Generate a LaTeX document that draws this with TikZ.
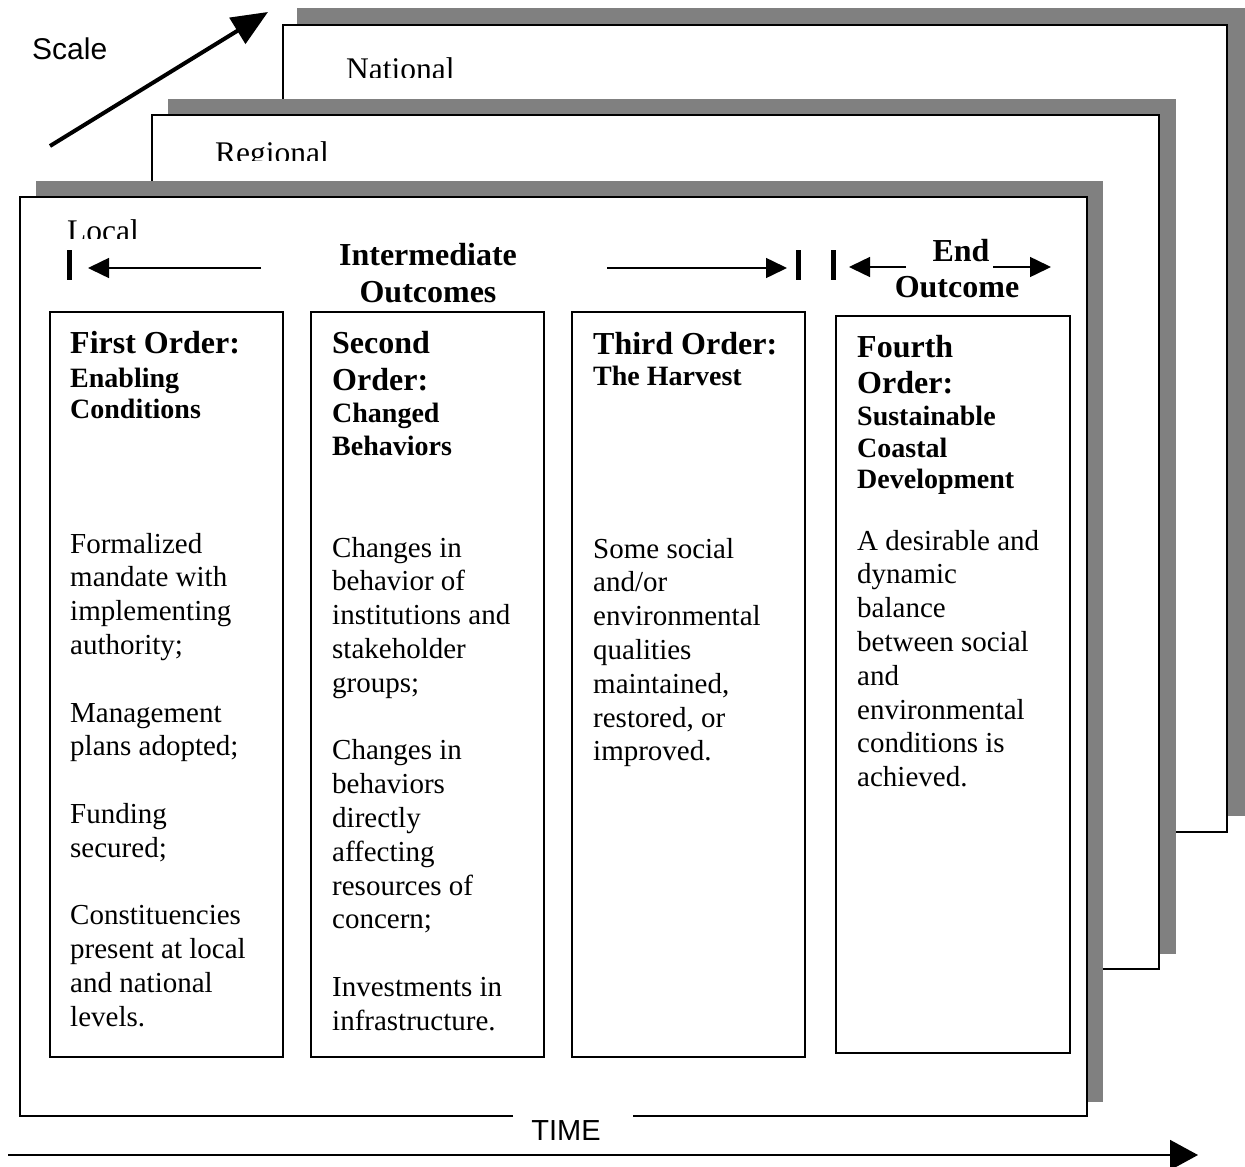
\documentclass[tikz,border=0pt]{standalone}
\usepackage{fontspec}
\setmainfont{Liberation Serif}
\newfontfamily\arialf{Liberation Sans}
\usetikzlibrary{arrows.meta}
\definecolor{shadowgray}{HTML}{808080}
\begin{document}
\begin{tikzpicture}[x=1pt,y=-1pt,
  shadowbox/.style={fill=shadowgray, draw=none},
  layerbox/.style={fill=white, draw=black, line width=2pt},
  orderbox/.style={draw=black, line width=1.6pt},
  txt/.style={inner sep=0pt, anchor=base west},
  body/.style={txt, font=\fontsize{29}{34}\selectfont},
  ttl/.style={txt, font=\bfseries\fontsize{32}{36}\selectfont},
  sub/.style={txt, font=\bfseries\fontsize{28}{32}\selectfont},
  head/.style={inner sep=0pt, anchor=base, font=\bfseries\fontsize{32}{36}\selectfont},
  layerlabel/.style={txt, font=\fontsize{31.5}{36}\selectfont},
  bar/.style={line width=5pt},
  harrow/.style={line width=1.5pt, -{Triangle[length=21pt,width=20pt]}},
]
\useasboundingbox (0,0) rectangle (1245,1167);

% National layer
\fill[shadowbox] (297,8) rectangle (1245,816);
\draw[layerbox] (283,25) rectangle (1227,832);
\begin{scope}
  \clip (300,40) rectangle (600,77);
  \node[layerlabel] (national) at (346,79) {National};
\end{scope}

% Regional layer
\fill[shadowbox] (168,99) rectangle (1176,954);
\draw[layerbox] (152,115) rectangle (1159,969);
\begin{scope}
  \clip (170,125) rectangle (500,160);
  \node[layerlabel] (regional) at (215,163) {Regional};
\end{scope}

% Local layer
\fill[shadowbox] (36,181) rectangle (1103,1102);
\fill[white] (20,197) rectangle (1087,1116);
\draw[line width=2pt] (513,1116) -- (20,1116) -- (20,197) -- (1087,197) -- (1087,1116) -- (633,1116);
\begin{scope}
  \clip (40,205) rectangle (300,238);
  \node[layerlabel] (local) at (67,241) {Local};
\end{scope}

% Header bars and arrows
\draw[bar] (69,250) -- (69,280);
\draw[bar] (798,250) -- (798,280);
\draw[bar] (833,250) -- (833,280);
\coordinate (a1s) at (261,268); \coordinate (a1e) at (88,268);
\coordinate (a2s) at (607,268); \coordinate (a2e) at (787,268);
\coordinate (a3s) at (906,267); \coordinate (a3e) at (849,267);
\coordinate (a4s) at (993,267); \coordinate (a4e) at (1051,267);
\draw[harrow] (a1s) -- (a1e);
\draw[harrow] (a2s) -- (a2e);
\draw[harrow] (a3s) -- (a3e);
\draw[harrow] (a4s) -- (a4e);
\node[head] (inter1) at (428,265) {Intermediate};
\node[head] (inter2) at (428,302) {Outcomes};
\node[head] (end1) at (961,261) {End};
\node[head] (end2) at (957,297) {Outcome};

% Order boxes
\draw[orderbox] (50,312) rectangle (283,1057);
\draw[orderbox] (311,312) rectangle (544,1057);
\draw[orderbox] (572,312) rectangle (805,1057);
\draw[orderbox] (836,316) rectangle (1070,1053);

% Box 1
\node[ttl] (t1a) at (70,353) {First Order:};
\node[sub] (t1b) at (70,387) {Enabling};
\node[sub] (t1c) at (70,418) {Conditions};
\foreach \t [count=\i from 0] in {{Formalized},{mandate with},{implementing},{authority;},{},{Management},{plans adopted;},{},{Funding},{secured;},{},{Constituencies},{present at local},{and national},{levels.}}
  \node[body] (b1l\i) at (70,{553+33.8*\i}) {\t};

% Box 2
\node[ttl] (t2a) at (332,353) {Second};
\node[ttl] (t2b) at (332,390) {Order:};
\node[sub] (t2c) at (332,422) {Changed};
\node[sub] (t2d) at (332,455) {Behaviors};
\foreach \t [count=\i from 0] in {{Changes in},{behavior of},{institutions and},{stakeholder},{groups;},{},{Changes in},{behaviors},{directly},{affecting},{resources of},{concern;},{},{Investments in},{infrastructure.}}
  \node[body] (b2l\i) at (332,{557+33.8*\i}) {\t};

% Box 3
\node[ttl] (t3a) at (593,354) {Third Order:};
\node[sub] (t3b) at (593,385) {The Harvest};
\foreach \t [count=\i from 0] in {{Some social},{and/or},{environmental},{qualities},{maintained,},{restored, or},{improved.}}
  \node[body] (b3l\i) at (593,{558+33.8*\i}) {\t};

% Box 4
\node[ttl] (t4a) at (857,357) {Fourth};
\node[ttl] (t4b) at (857,393) {Order:};
\node[sub] (t4c) at (857,425) {Sustainable};
\node[sub] (t4d) at (857,457) {Coastal};
\node[sub] (t4e) at (857,488) {Development};
\foreach \t [count=\i from 0] in {{A desirable and},{dynamic},{balance},{between social},{and},{environmental},{conditions is},{achieved.}}
  \node[body] (b4l\i) at (857,{550+33.8*\i}) {\t};

% Scale
\node[txt, font=\arialf\fontsize{30}{34}\selectfont] (scale) at (32,59) {Scale};
\coordinate (ss) at (50,146); \coordinate (se) at (268,12);
\draw[line width=4pt, -{Triangle[length=36pt,width=30pt]}] (ss) -- (se);

% Time
\node[inner sep=0pt, anchor=base, font=\arialf\fontsize{29}{33}\selectfont] (time) at (566,1140) {TIME};
\coordinate (ts) at (8,1155); \coordinate (te) at (1198,1155);
\draw[line width=2pt, -{Triangle[length=28pt,width=30pt]}] (ts) -- (te);
\end{tikzpicture}
\end{document}
